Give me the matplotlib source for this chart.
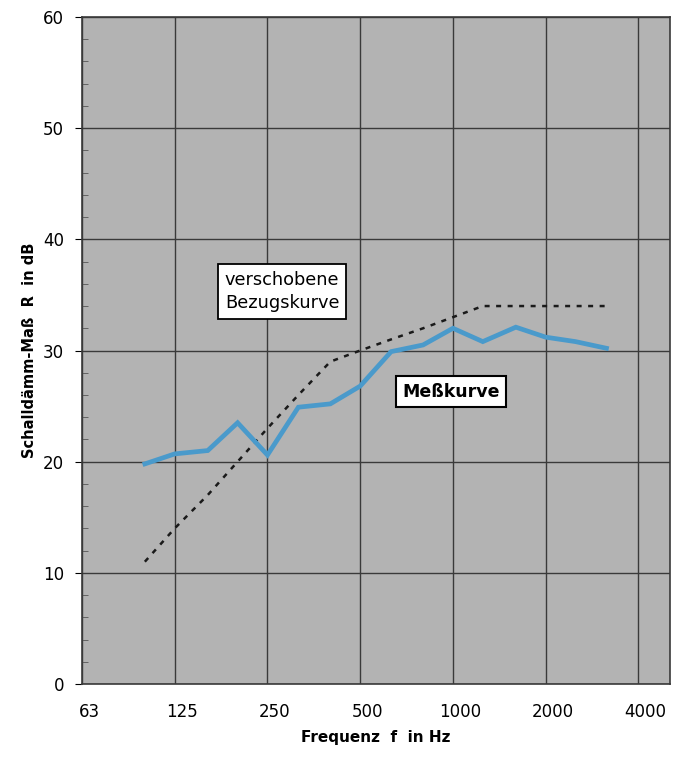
import matplotlib

matplotlib.use("Agg")
import matplotlib.pyplot as plt
import matplotlib.transforms as mtransforms
from matplotlib.ticker import FixedLocator, NullFormatter

# third-octave band centre frequencies (Hz)
freqs = [100, 125, 160, 200, 250, 315, 400, 500, 630, 800,
         1000, 1250, 1600, 2000, 2500, 3150]
# measured sound reduction index R in dB
r_mess = [19.8, 20.7, 21.0, 23.5, 20.6, 24.9, 25.2, 26.8, 29.9, 30.5,
          32.0, 30.8, 32.1, 31.2, 30.8, 30.2]
# shifted reference curve
r_bezug = [11, 14, 17, 20, 23, 26, 29, 30, 31, 32,
           33, 34, 34, 34, 34, 34]

octave_ticks = [62.5, 125, 250, 500, 1000, 2000, 4000]
octave_labels = ["63", "125", "250", "500", "1000", "2000", "4000"]

plt.rcParams["font.family"] = ["DejaVu Sans"]

fig = plt.figure(figsize=(6.73, 7.60), dpi=100)
ax = fig.add_axes([0.1218, 0.1, 0.8737, 0.8776])
ax.set_facecolor("#b3b3b3")

ax.set_xscale("log", base=2)
ax.set_xlim(62.5, 62.5 * 2 ** 6.34)
ax.set_ylim(0, 60)

ax.xaxis.set_major_locator(FixedLocator(octave_ticks))
ax.set_xticklabels(octave_labels)
ax.xaxis.set_minor_locator(FixedLocator([]))
ax.xaxis.set_minor_formatter(NullFormatter())
ax.set_yticks(range(0, 61, 10))
ax.set_yticks(range(0, 61, 2), minor=True)

ax.grid(True, which="major", color="#3a3a3a", linewidth=1.0)
ax.set_axisbelow(True)

ax.tick_params(axis="x", which="major", length=0, pad=14, labelsize=12)
ax.tick_params(axis="y", which="major", direction="out", length=5, pad=8, labelsize=12)
ax.tick_params(axis="y", which="minor", direction="in", length=4, color="#555555")

# labels in the original sit a little to the right of their grid line
shift = mtransforms.ScaledTranslation(7 / 100, 0, fig.dpi_scale_trans)
for lab in ax.get_xticklabels():
    lab.set_transform(lab.get_transform() + shift)

for side in ["left", "right", "top", "bottom"]:
    ax.spines[side].set_color("#3a3a3a")
    ax.spines[side].set_linewidth(1.2)

ax.plot(freqs, r_bezug, color="#1a1a1a", linewidth=1.8, linestyle=(0, (2, 2.6)), zorder=3)
ax.plot(freqs, r_mess, color="#4a9acb", linewidth=3.4, solid_joinstyle="miter", zorder=4)

box = dict(boxstyle="square,pad=0.4", facecolor="white", edgecolor="black", linewidth=1.3)
ax.text(200 * 2 ** 0.48, 35.3, "verschobene\nBezugskurve", ha="center", va="center",
        fontsize=12.8, linespacing=1.35, bbox=box, zorder=5)
ax.text(1000 * 2 ** -0.02, 26.3, "Meßkurve", ha="center", va="center",
        fontsize=12.5, fontweight="bold",
        bbox=dict(boxstyle="square,pad=0.38", facecolor="white", edgecolor="black", linewidth=1.5),
        zorder=5)

ax.set_xlabel("Frequenz  f  in Hz", fontsize=11, fontweight="bold", labelpad=6)
ax.set_ylabel("Schalldämm-Maß  R  in dB", fontsize=10.5, fontweight="bold", labelpad=4)

fig.savefig("out.png", dpi=100)
plt.close(fig)
